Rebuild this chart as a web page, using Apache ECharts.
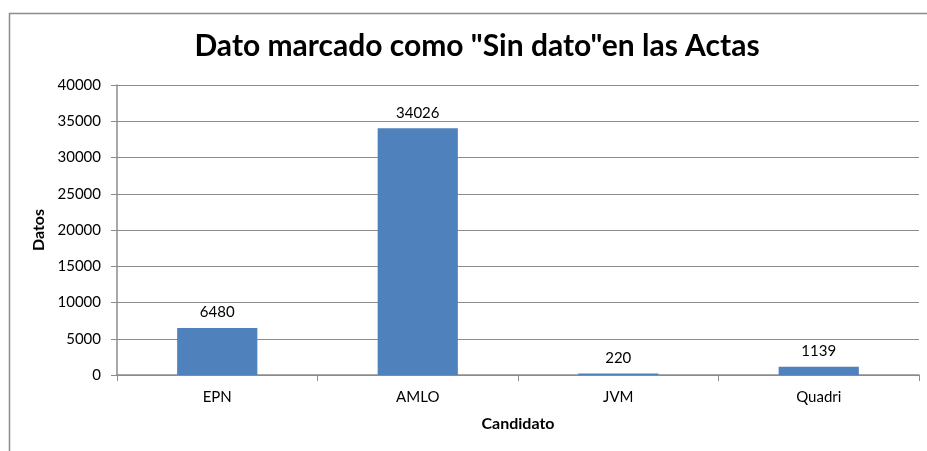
<!DOCTYPE html>
<html><head><meta charset="utf-8">
<script src="https://cdn.jsdelivr.net/npm/echarts@6/dist/echarts.min.js"></script>
<style>html,body{margin:0;padding:0;background:#fff}#c{width:927px;height:451px}</style>
</head><body><div id="c"></div>
<script>
const categories = ["EPN", "AMLO", "JVM", "Quadri"];
const values = [6480, 34026, 220, 1139];
const titleText = 'Dato marcado como "Sin dato"en las Actas';
const yAxisName = "Datos";
const xAxisName = "Candidato";

const chart = echarts.init(document.getElementById('c'), null, {renderer: 'canvas'});
const font = 'Lato, "Open Sans", sans-serif';
chart.setOption({
  animation: false,
  backgroundColor: '#fff',
  graphic: [{
    type: 'rect', left: 7, top: 11, shape: {width: 940, height: 460},
    style: {fill: 'none', stroke: '#8c8c8c', lineWidth: 1.5}, silent: true
  }],
  title: {
    text: titleText, left: 472, top: 26, textAlign: 'center',
    textStyle: {fontFamily: font, fontSize: 30, fontWeight: 'bold', color: '#000'}
  },
  grid: {left: 117, right: 8, top: 85, bottom: 76, containLabel: false},
  xAxis: {
    type: 'category', data: categories,
    name: xAxisName, nameLocation: 'middle', nameGap: 41,
    nameTextStyle: {fontFamily: font, fontSize: 16, fontWeight: 'bold', color: '#000'},
    axisLine: {lineStyle: {color: '#8c8c8c', width: 1.5}},
    axisTick: {show: true, alignWithLabel: false, length: 6, lineStyle: {color: '#8c8c8c'}},
    axisLabel: {fontFamily: font, fontSize: 15, color: '#000', margin: 15}
  },
  yAxis: {
    type: 'value', min: 0, max: 40000, interval: 5000,
    name: yAxisName, nameLocation: 'middle', nameGap: 69, nameRotate: 90,
    nameTextStyle: {fontFamily: font, fontSize: 16, fontWeight: 'bold', color: '#000'},
    axisLine: {show: true, lineStyle: {color: '#8c8c8c', width: 1.5}},
    axisTick: {show: true, length: 6, lineStyle: {color: '#8c8c8c'}},
    axisLabel: {fontFamily: font, fontSize: 15, color: '#000', margin: 16, formatter: v => String(v)},
    splitLine: {lineStyle: {color: '#8c8c8c', width: 1}}
  },
  series: [{
    type: 'bar', data: values, barWidth: '40%',
    itemStyle: {color: '#4f81bd'},
    label: {show: true, position: 'top', distance: 8, fontFamily: font, fontSize: 15, color: '#000'}
  }]
});
</script></body></html>
